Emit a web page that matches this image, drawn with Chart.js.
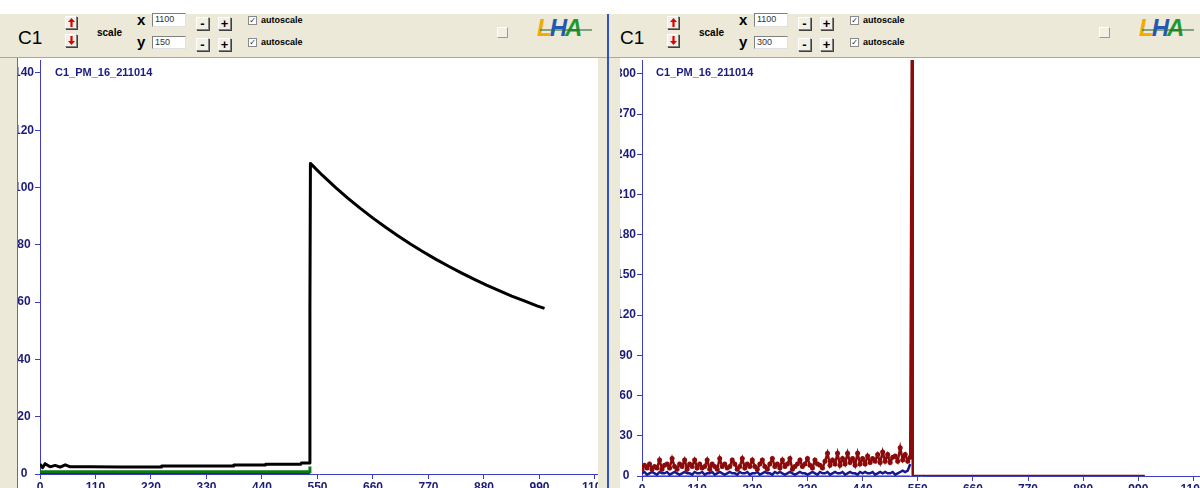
<!DOCTYPE html>
<html><head><meta charset="utf-8">
<script src="https://cdn.jsdelivr.net/npm/chart.js@4.4.1/dist/chart.umd.min.js"></script>
<style>
html,body{margin:0;padding:0;width:1200px;height:488px;overflow:hidden;background:#fff;font-family:"Liberation Sans",Arial,sans-serif;}
.a{position:absolute;}
.gray{background:#ECE9D8;}
.btn{position:absolute;box-sizing:border-box;border:1px solid;border-color:#fff #808080 #808080 #fff;background:#F1EFE6;box-shadow:1px 1px 0 #404040;}
.pm{font:bold 13px "Liberation Sans",Arial;line-height:11px;text-align:center;color:#000;}
.inp{position:absolute;box-sizing:border-box;background:#fff;border:1px solid;border-color:#808080 #e0e0e0 #e0e0e0 #808080;font:9px "Liberation Sans",Arial;color:#333;padding-left:2px;line-height:11px;}
.cb{position:absolute;box-sizing:border-box;width:9px;height:9px;border:1px solid #8a8a8a;background:#fff;font:bold 8px "DejaVu Sans";line-height:7px;text-align:center;color:#222;}
.lbl{position:absolute;font:bold 9px "Liberation Sans",Arial;color:#000;white-space:nowrap;}
.logo{position:absolute;font:italic bold 24px "Liberation Sans",Arial;letter-spacing:-2px;white-space:nowrap;line-height:24px;}
.title{position:absolute;font:bold 11px "Liberation Sans",Arial;color:#1c1c80;white-space:nowrap;}
.wrap{position:absolute;top:60px;width:580px;height:428px;overflow:hidden;background:#fff;}
</style></head><body>
<script>
// ---------- data ----------
const leftBlackX = [0, 5, 10, 20, 30, 40, 50, 60, 100, 160, 240, 241, 383, 384, 446, 447, 517, 518, 534, 535, 536,
  560, 585, 610, 635, 660, 685, 710, 735, 760, 785, 810, 835, 860, 885, 910, 935, 960, 985, 1000];
const leftBlackY = [3.5, 2.2, 3.6, 2.5, 3.0, 2.4, 3.2, 2.5, 2.5, 2.4, 2.4, 2.8, 2.8, 3.1, 3.1, 3.4, 3.4, 3.8, 3.8, 57, 108.4,
  104.2, 100.1, 96.3, 92.7, 89.3, 86.1, 83.1, 80.2, 77.5, 74.9, 72.5, 70.2, 68.0, 65.9, 64.0, 62.1, 60.4, 58.7, 57.8];
const leftGreenX = [0, 534, 535];
const leftGreenY = [0.8, 0.8, 2.6];
const leftBlueX = [0, 535];
const leftBlueY = [0, 0];

const rightStep = 5; // sample spacing of the noisy traces (0..535)
const rightRed = [
  5,8,6,9,5,7,6,12,5,8,9,6,13,7,5,9,7,12,5,9,7,12,6,
  9,6,7,12,5,9,7,5,13,7,9,6,7,12,9,5,7,13,6,9,7,12,
  7,5,9,12,7,5,9,13,7,9,6,12,7,9,13,5,7,9,12,7,9,13,
  8,6,12,9,8,6,11,17,8,12,9,17,8,13,9,17,10,13,8,17,9,13,
  9,15,10,13,11,16,10,18,11,16,10,14,15,11,21,12,16,11,14];
const rightRedTailX = [539, 540, 1003];
const rightRedTailY = [400, 0, 0];
const rightBlue = [
  2,3,1,2,3,2,1,3,2,2,3,1,2,3,2,1,2,3,2,2,1,3,2,
  2,3,1,2,2,3,1,2,3,2,1,2,3,2,2,1,3,2,2,3,1,2,
  2,3,1,2,3,2,2,1,3,2,3,2,1,2,3,2,1,2,3,2,2,1,
  2,3,2,1,3,2,2,3,1,2,3,2,2,3,1,2,3,2,2,1,3,2,
  3,2,2,3,1,2,3,2,3,2,2,3,1,2,3,4,3,4,9];
const rightMagX = [0, 535];
const rightMagY = [0, 0];

const xTicks = [0,110,220,330,440,550,660,770,880,990,1100];
const leftYTicks = [0,20,40,60,80,100,120,140];
const rightYTicks = [0,30,60,90,120,150,180,210,240,270,300];
const titleText = "C1_PM_16_211014";
</script>

<!-- frame -->
<div class="a gray" style="left:0;top:14px;width:1200px;height:44px;"></div>
<div class="a" style="left:0;top:57px;width:1200px;height:1px;background:#ACA899;"></div>
<div class="a gray" style="left:0;top:58px;width:17px;height:430px;"></div>
<div class="a" style="left:17px;top:58px;width:1px;height:430px;background:#707070;"></div>
<div class="a gray" style="left:598px;top:58px;width:22px;height:430px;"></div>
<div class="a" style="left:607px;top:14px;width:2px;height:474px;background:#3050c8;"></div>

<div id="tb0"></div><div id="tb1"></div>

<div class="wrap" style="left:18px;"><canvas id="c0" width="580" height="428"></canvas></div>
<div class="wrap" style="left:620px;"><canvas id="c1" width="580" height="428"></canvas></div>
<div class="title" id="t0" style="left:55px;top:66px;"></div>
<div class="title" id="t1" style="left:656px;top:66px;"></div>

<script>
document.getElementById('t0').textContent = titleText;
document.getElementById('t1').textContent = titleText;

function toolbar(id, off, yval) {
  const up = '<svg width="7" height="9" style="position:absolute;left:2px;top:1px"><path d="M3.5 0 L7 4 L4.6 4 L4.6 9 L2.4 9 L2.4 4 L0 4Z" fill="#e00000"/></svg>';
  const dn = '<svg width="7" height="9" style="position:absolute;left:2px;top:1px"><path d="M3.5 9 L7 5 L4.6 5 L4.6 0 L2.4 0 L2.4 5 L0 5Z" fill="#e00000"/></svg>';
  const h = `
  <div class="a" style="left:${off+18}px;top:28px;font:19px 'Liberation Sans',Arial;line-height:19px;color:#000;">C1</div>
  <div class="btn" style="left:${off+65}px;top:16px;width:12px;height:13px;">${up}</div>
  <div class="btn" style="left:${off+65}px;top:34px;width:12px;height:13px;">${dn}</div>
  <div class="lbl" style="left:${off+97}px;top:27px;font-size:10px;">scale</div>
  <div class="lbl" style="left:${off+137}px;top:11px;font-size:15px;">x</div>
  <div class="inp" style="left:${off+152}px;top:13px;width:34px;height:14px;">1100</div>
  <div class="lbl" style="left:${off+137}px;top:33px;font-size:15px;">y</div>
  <div class="inp" style="left:${off+152}px;top:36px;width:34px;height:13px;">${yval}</div>
  <div class="btn pm" style="left:${off+196}px;top:17px;width:13px;height:13px;">-</div>
  <div class="btn pm" style="left:${off+218}px;top:17px;width:13px;height:13px;">+</div>
  <div class="btn pm" style="left:${off+196}px;top:38px;width:13px;height:13px;">-</div>
  <div class="btn pm" style="left:${off+218}px;top:38px;width:13px;height:13px;">+</div>
  <div class="cb" style="left:${off+248}px;top:16px;">✓</div>
  <div class="lbl" style="left:${off+261}px;top:15px;">autoscale</div>
  <div class="cb" style="left:${off+248}px;top:38px;">✓</div>
  <div class="lbl" style="left:${off+261}px;top:37px;">autoscale</div>
  <div class="btn" style="left:${off+497}px;top:27px;width:11px;height:11px;box-shadow:none;border-color:#fff #9a9a9a #9a9a9a #fff;"></div>
  <div class="logo" style="left:${off+537}px;top:16px;"><span style="color:#F2A900">L</span><span style="color:#2456B4">H</span><span style="color:#1E9A2A">A</span></div>
  <div class="a" style="left:${off+540}px;top:29px;width:52px;height:2px;background:#2a6a40;opacity:0.55;"></div>`;
  document.getElementById(id).innerHTML = h;
}
toolbar('tb0', 0, '150');
toolbar('tb1', 602, '300');

const AX = '#3d3dc4', LBL = '#1c1c78';
const tickFont = {family: "'Liberation Sans', Arial", size: 12, weight: 'bold'};
function zip(xs, ys) { return xs.map((x, i) => ({x: x, y: ys[i]})); }
function fitY(s) { s.width = 22; s.paddingTop = 0; s.paddingBottom = 0; }
function fitX(h) { return s => { s.height = h; s.paddingLeft = 0; s.paddingRight = 0; }; }

function makeChart(id, datasets, xmax, ymax, yTicks, xh) {
  return new Chart(document.getElementById(id), {
    type: 'scatter',
    data: {datasets},
    options: {
      responsive: false, animation: false, devicePixelRatio: 1,
      layout: {padding: 0, autoPadding: false},
      plugins: {legend: {display: false}, tooltip: {enabled: false}, title: {display: false}},
      scales: {
        x: {type: 'linear', min: 0, max: xmax, afterFit: fitX(xh),
            afterBuildTicks: s => { s.ticks = xTicks.map(v => ({value: v})); },
            grid: {drawOnChartArea: false, drawTicks: true, tickLength: 5, color: AX},
            border: {display: true, color: AX, width: 1},
            ticks: {font: tickFont, color: LBL, padding: 1, maxRotation: 0, autoSkip: false, callback: v => String(Math.round(v))}},
        y: {type: 'linear', min: 0, max: ymax, afterFit: fitY,
            afterBuildTicks: s => { s.ticks = yTicks.map(v => ({value: v})); },
            grid: {drawOnChartArea: false, drawTicks: true, tickLength: 5, color: AX},
            border: {display: true, color: AX, width: 1},
            ticks: {font: tickFont, color: LBL, padding: 1, crossAlign: 'center', autoSkip: false, callback: v => String(Math.round(v))}}
      }
    }
  });
}

makeChart('c0', [
  {data: zip(leftBlackX, leftBlackY), showLine: true, borderColor: '#000', borderWidth: 3, pointRadius: 0, order: 0, borderJoinStyle: 'round'},
  {data: zip(leftGreenX, leftGreenY), showLine: true, borderColor: '#0b7a12', borderWidth: 3, pointRadius: 0, order: 1},
  {data: zip(leftBlueX, leftBlueY), showLine: true, borderColor: '#1414a8', borderWidth: 3, pointRadius: 0, order: 2}
], 1106, 144.5, leftYTicks, 14);

const redPts = rightRed.map((v, i) => ({x: i * rightStep, y: v})).concat(zip(rightRedTailX, rightRedTailY));
const bluePts = rightBlue.map((v, i) => ({x: i * rightStep, y: v}));
makeChart('c1', [
  {data: redPts, showLine: true, borderColor: '#8b0b0b', borderWidth: 2.5,
   pointRadius: c => (c.raw && c.raw.x <= 535 ? 2.5 : 0), pointBackgroundColor: '#8b0b0b', pointBorderWidth: 0, order: 0},
  {data: bluePts, showLine: true, borderColor: '#18188e', borderWidth: 2.5, pointRadius: 0, order: 1},
  {data: zip(rightMagX, rightMagY), showLine: true, borderColor: '#c040c0', borderWidth: 1.5, pointRadius: 0, order: 2}
], 1113, 310.4, rightYTicks, 12);
</script>
</body></html>
